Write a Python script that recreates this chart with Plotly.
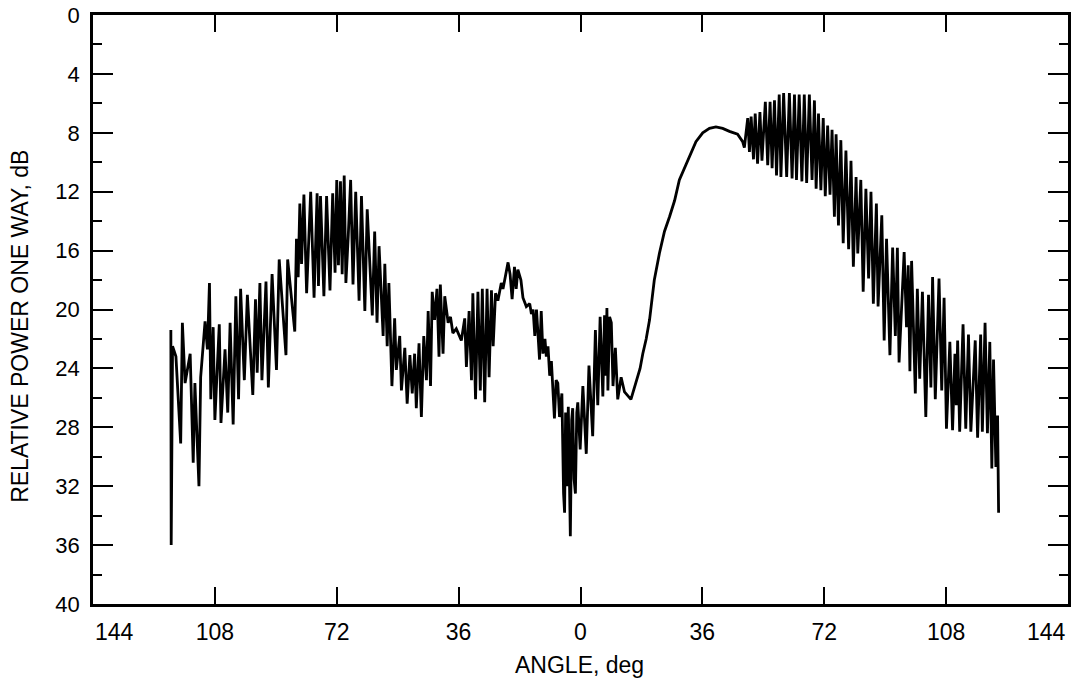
import plotly.graph_objects as go

# (angle deg, relative power dB), left to right
LEFT_LOBE = [
    (-121.0, 21.4), (-120.9, 36.0), (-120.5, 22.5), (-119.5, 23.2), (-118.1, 29.1), (-117.6, 20.9),
    (-116.8, 25.0), (-115.3, 23.0), (-114.4, 30.4), (-113.9, 25.0), (-112.7, 32.0), (-112.2, 24.6),
    (-110.9, 20.8), (-110.2, 22.7), (-109.6, 18.2), (-109.2, 26.1), (-108.5, 21.2), (-108.0, 27.5),
    (-106.7, 21.0), (-106.2, 27.7), (-105.0, 22.7), (-104.2, 27.0), (-103.5, 20.9), (-102.6, 27.8),
    (-101.8, 19.1), (-101.0, 26.1), (-100.4, 18.6), (-99.3, 24.8), (-98.4, 19.0), (-96.8, 25.8),
    (-96.0, 19.3), (-95.5, 24.3), (-94.7, 18.2), (-94.1, 24.8), (-92.9, 18.1), (-92.2, 25.3),
    (-91.1, 17.6), (-89.8, 24.1), (-89.0, 16.6), (-87.0, 23.1), (-86.5, 16.6), (-84.4, 21.5),
    (-83.9, 15.2), (-83.4, 17.8), (-82.9, 12.8), (-82.4, 16.9), (-81.7, 12.2), (-80.9, 18.9),
    (-79.7, 12.0), (-78.7, 19.2), (-77.8, 12.1), (-77.4, 18.4), (-76.8, 12.3), (-75.8, 19.1),
    (-75.0, 12.3), (-74.0, 18.7), (-73.2, 12.1), (-72.5, 17.5), (-72.0, 11.2),
]

LEFT_LOBE_FALL = [
    (-71.5, 17.0), (-70.9, 11.3), (-70.4, 17.6), (-69.8, 10.9), (-69.3, 18.2), (-68.6, 15.0),
    (-67.9, 11.2), (-67.2, 18.3), (-66.4, 12.0), (-65.4, 19.4), (-64.7, 12.3), (-63.7, 20.1),
    (-63.0, 13.2), (-61.5, 20.4), (-60.8, 14.7), (-60.1, 20.9), (-59.5, 15.7), (-58.3, 21.8),
    (-57.8, 16.9), (-57.1, 22.5), (-56.6, 18.2), (-55.7, 25.2), (-54.9, 20.6),
]

SIDE_LOBES = [
    (-54.4, 24.1), (-53.4, 21.8), (-52.9, 25.5), (-51.9, 22.6), (-51.2, 26.4), (-50.4, 23.1),
    (-49.7, 25.7), (-49.0, 23.0), (-48.5, 26.7), (-47.7, 22.3), (-47.0, 27.3), (-46.3, 21.8),
    (-45.5, 24.8), (-45.0, 20.1), (-44.3, 25.2), (-43.8, 18.8), (-43.1, 20.7), (-42.4, 18.6),
    (-41.8, 23.2), (-41.4, 18.3), (-40.6, 23.0), (-40.1, 19.1), (-39.1, 20.9), (-38.4, 20.5),
    (-37.7, 21.6), (-36.7, 21.3), (-35.2, 22.1), (-34.2, 20.6), (-33.7, 23.9), (-32.9, 20.1),
    (-32.2, 24.8), (-31.8, 18.9), (-31.0, 26.1), (-30.3, 18.8), (-29.6, 25.5), (-29.0, 18.6),
    (-28.3, 26.3), (-27.6, 18.6), (-27.0, 24.6), (-26.3, 18.7), (-25.8, 22.5), (-25.1, 18.9),
    (-24.4, 19.4), (-23.4, 18.2), (-22.9, 18.6), (-22.4, 17.9), (-21.4, 16.8),
]

CENTER = [
    (-20.8, 17.6), (-20.2, 19.3), (-19.5, 17.1), (-19.0, 18.6), (-18.5, 17.3), (-17.6, 18.0),
    (-17.0, 19.2), (-16.0, 19.8), (-15.0, 19.6), (-14.5, 20.3), (-14.0, 20.0), (-13.5, 21.8),
    (-13.0, 20.0), (-12.1, 23.4), (-11.6, 20.1), (-11.1, 23.0), (-10.5, 22.0), (-10.1, 23.2),
    (-9.6, 22.5), (-9.1, 24.5), (-8.6, 23.5), (-8.1, 26.1), (-7.7, 27.4), (-7.2, 24.8),
    (-6.7, 25.0), (-6.2, 27.3), (-5.5, 25.7), (-5.0, 32.5), (-4.7, 33.8), (-4.4, 27.0),
    (-4.0, 32.0), (-3.6, 26.6), (-3.0, 35.4), (-2.6, 27.5), (-2.3, 26.7), (-1.9, 31.5),
    (-1.5, 32.5), (-1.1, 27.0), (-0.8, 26.3), (-0.1, 29.5), (0.7, 25.2), (1.7, 29.8),
    (2.5, 23.8), (3.6, 28.6), (4.4, 21.4), (5.1, 26.5), (5.8, 20.5), (6.6, 25.9),
    (7.1, 20.4), (7.5, 24.5), (7.8, 19.9), (8.1, 25.5), (8.6, 20.5), (9.1, 20.9),
    (9.6, 25.2), (10.3, 22.6), (11.0, 26.1), (12.0, 24.6), (13.0, 25.6), (14.9, 26.1),
    (16.9, 24.6), (17.6, 24.0), (18.4, 23.0), (19.4, 22.0), (20.4, 20.7), (21.8, 18.0),
    (23.3, 16.2), (24.8, 14.7), (26.3, 13.7), (27.8, 12.6), (29.2, 11.2), (31.2, 10.1),
    (33.2, 9.1),
]

MAIN_LOBE = [
    (34.1, 8.6), (36.1, 8.0), (38.1, 7.7), (40.0, 7.6), (42.0, 7.7), (44.0, 7.9),
    (46.4, 8.1), (47.9, 8.6), (48.4, 9.0), (49.4, 7.0), (49.9, 9.3), (50.4, 6.9),
    (51.1, 9.8), (51.6, 6.7), (52.3, 10.1), (53.0, 6.6), (53.6, 9.9), (54.6, 5.9),
    (55.3, 10.2), (56.0, 5.9), (56.6, 10.4), (57.3, 5.8), (57.9, 10.9), (58.7, 5.4),
    (59.2, 11.0), (60.0, 5.3), (60.9, 11.0), (61.7, 5.3), (62.5, 11.1), (63.2, 5.4),
    (63.8, 11.2), (64.6, 5.4), (65.4, 11.3), (66.1, 5.4), (66.8, 11.4), (67.6, 5.4),
    (68.4, 11.2), (69.1, 5.8), (69.6, 11.8), (70.3, 6.7), (71.0, 11.9), (71.7, 7.0),
    (72.3, 12.3), (73.0, 7.5), (73.7, 12.2), (74.3, 7.8), (75.0, 13.7), (75.5, 8.1),
    (76.2, 14.3), (76.9, 8.5), (77.6, 15.5), (78.4, 9.2), (79.2, 15.9), (79.9, 9.9),
    (80.6, 17.1), (81.4, 11.0), (81.9, 16.2), (82.8, 11.2), (83.5, 18.8), (84.3, 11.8),
    (85.1, 17.9),
]

RIGHT_TAIL = [
    (85.8, 12.0), (86.5, 19.6), (87.4, 12.8), (87.9, 19.8), (89.0, 13.6), (89.7, 22.1),
    (90.4, 15.2), (91.4, 23.1), (92.2, 15.8), (93.0, 21.8), (93.6, 15.8), (94.1, 23.6),
    (95.6, 16.1), (96.3, 21.2), (96.8, 17.0), (97.3, 24.2), (97.8, 16.7), (98.9, 25.7),
    (99.5, 18.6), (100.2, 24.7), (101.0, 18.8), (102.0, 27.3), (102.8, 19.0), (103.5, 25.3),
    (104.0, 17.8), (104.8, 26.1), (105.9, 17.9), (106.7, 25.5), (107.4, 19.2), (108.1, 28.1),
    (109.1, 22.2), (109.9, 28.2), (110.6, 23.0), (111.0, 26.5), (111.4, 22.1), (112.0, 28.3),
    (113.0, 21.0), (113.8, 28.1), (114.6, 21.7), (115.3, 28.3), (116.6, 22.1), (117.3, 28.7),
    (118.2, 21.7), (118.7, 28.3), (119.5, 20.9), (120.2, 28.4), (120.9, 22.2), (121.5, 30.8),
    (122.0, 23.4), (122.7, 30.7), (123.2, 27.2), (123.5, 33.8),
]

X_TICKS = [-144, -108, -72, -36, 0, 36, 72, 108, 144]
# end labels (144 at both edges) sit inside the frame, drawn as edge-anchored labels below
X_TICK_TEXT = ["", "108", "72", "36", "0", "36", "72", "108", ""]
X_END_LABEL = "144"
Y_TICKS = [0, 4, 8, 12, 16, 20, 24, 28, 32, 36, 40]

points = LEFT_LOBE + LEFT_LOBE_FALL + SIDE_LOBES + CENTER + MAIN_LOBE + RIGHT_TAIL
angle = [p[0] for p in points]
power = [p[1] for p in points]

FONT = "Liberation Sans, Arial, Helvetica, sans-serif"

fig = go.Figure()
fig.add_trace(go.Scatter(x=angle, y=power, mode="lines",
                         line=dict(color="black", width=2.8), showlegend=False,
                         hoverinfo="skip"))

fig.update_layout(
    width=1071, height=678,
    margin=dict(l=93, r=3, t=15, b=74),
    paper_bgcolor="white", plot_bgcolor="white",
    font=dict(family=FONT, size=23, color="black"),
    xaxis=dict(range=[-144, 144], tickvals=X_TICKS, ticktext=X_TICK_TEXT,
               ticks="inside", ticklen=17, tickwidth=2, tickcolor="black",
               showline=True, linewidth=2.5, linecolor="black", mirror="ticks",
               showgrid=False, zeroline=False, tickfont=dict(size=23),
               ticklabelstandoff=6, automargin=False),
    yaxis=dict(range=[40, 0], tickvals=Y_TICKS,
               ticks="inside", ticklen=20, tickwidth=2, tickcolor="black",
               minor=dict(dtick=2, tick0=0, ticks="inside", ticklen=9,
                          tickwidth=2, tickcolor="black", showgrid=False),
               showline=True, linewidth=2.5, linecolor="black", mirror="ticks",
               showgrid=False, zeroline=False, tickfont=dict(size=22),
               ticklabelstandoff=6, automargin=False),
    annotations=[
        dict(text="RELATIVE POWER ONE WAY, dB", textangle=-90, showarrow=False,
             xref="paper", yref="paper", x=-0.075, y=0.472,
             xanchor="center", yanchor="middle", font=dict(size=23)),
        dict(text="ANGLE, deg", showarrow=False, xref="paper", yref="paper",
             x=0.499, y=-0.1036, xanchor="center", yanchor="middle",
             font=dict(size=23)),
        dict(text=X_END_LABEL, showarrow=False, xref="paper", yref="paper",
             x=0.0, y=-0.0475, xanchor="left", yanchor="middle",
             font=dict(size=23)),
        dict(text=X_END_LABEL, showarrow=False, xref="paper", yref="paper",
             x=1.0, y=-0.0475, xanchor="right", yanchor="middle",
             font=dict(size=23)),
    ],
)

fig.write_html(
    "out.html",
    config={"displayModeBar": False},
    post_script="document.body.style.margin='0';document.body.style.padding='0';"
                "document.body.style.overflow='hidden';",
)
